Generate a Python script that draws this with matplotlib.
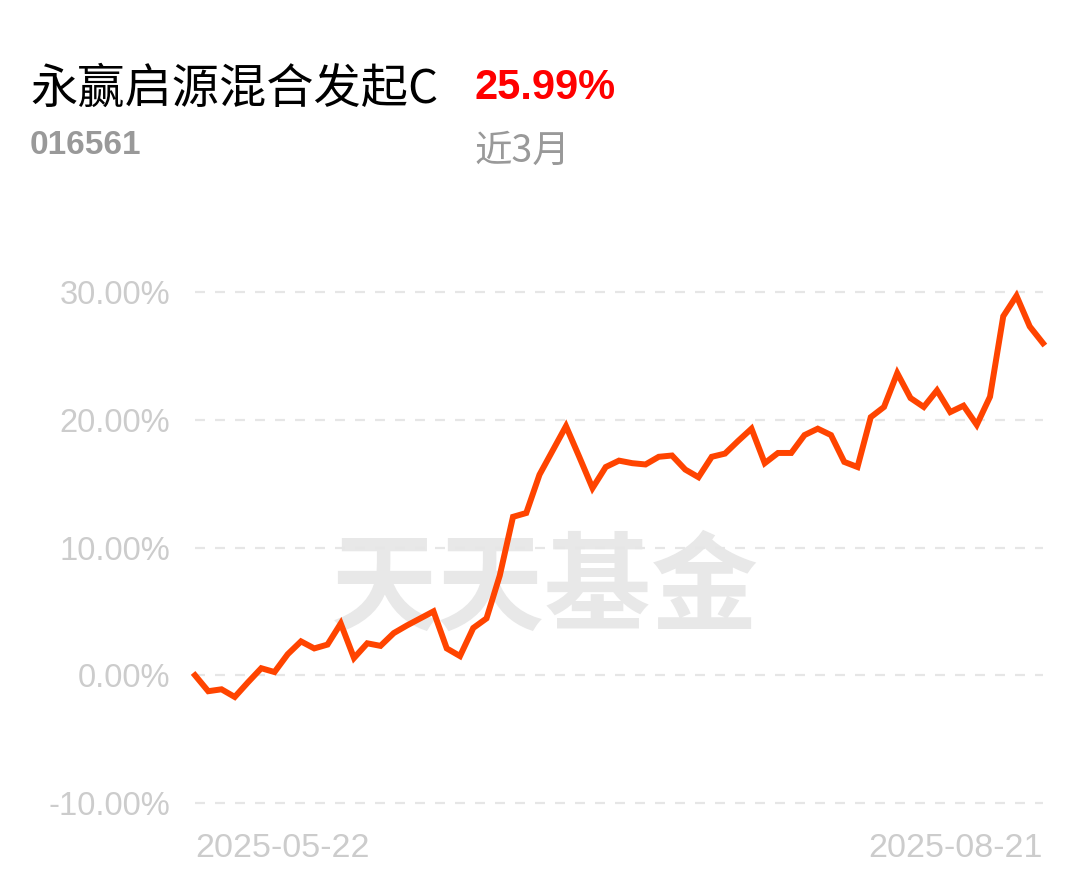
import matplotlib
matplotlib.use('Agg')
import matplotlib.pyplot as plt

# fund info
fund_name = '永赢启源混合发起C'
fund_code = '016561'
period_return = '25.99%'
period_label = '近3月'
start_date = '2025-05-22'
end_date = '2025-08-21'

# cumulative return (%) per trading day
returns = [0.00, -1.25, -1.1, -1.7, -0.55, 0.55, 0.25, 1.65, 2.65, 2.1,
           2.4, 4.05, 1.35, 2.5, 2.3, 3.3, 3.9, 4.45, 5.0, 2.1,
           1.5, 3.7, 4.45, 7.8, 12.4, 12.7, 15.7, 17.6, 19.5, 17.1,
           14.65, 16.3, 16.8, 16.6, 16.5, 17.1, 17.2, 16.1, 15.5, 17.1,
           17.35, 18.35, 19.3, 16.6, 17.4, 17.4, 18.8, 19.3, 18.8, 16.7,
           16.3, 20.2, 21.0, 23.65, 21.7, 21.0, 22.3, 20.6, 21.1, 19.6,
           21.8, 28.1, 29.7, 27.3, 25.99]
yticks = [-10, 0, 10, 20, 30]

W, H = 1089, 881
fig = plt.figure(figsize=(W / 100, H / 100), dpi=100)
fig.patch.set_facecolor('white')

# axes placed to match pixel layout
left, right, top, bottom = 195, 1043, 292, 803
ax = fig.add_axes([left / W, 1 - bottom / H, (right - left) / W, (bottom - top) / H])
ax.set_xlim(0, len(returns) - 1)
ax.set_ylim(-10, 30)
for s in ax.spines.values():
    s.set_visible(False)

# dashed grid
for t in yticks:
    ax.axhline(t, color='#e6e6e6', lw=1.6, dashes=(4.5, 4.5), zorder=1, clip_on=False)

ax.set_yticks(yticks)
ax.set_yticklabels(['%.2f%%' % t for t in yticks], family='Liberation Sans',
                   fontsize=23.5, color='#cccccc')
ax.tick_params(axis='y', length=0, pad=18)
ax.set_xticks([])

# x labels at both ends
ax.text(0, -0.09, start_date, transform=ax.transAxes, ha='left', va='center',
        family='Liberation Sans', fontsize=24.5, color='#cccccc')
ax.text(1, -0.09, end_date, transform=ax.transAxes, ha='right', va='center',
        family='Liberation Sans', fontsize=24.5, color='#cccccc')

# watermark
fig.text(545 / W, 1 - 590 / H, '天天基金', ha='center', va='center',
         family=['Noto Sans CJK SC'], fontweight='bold', fontsize=77,
         color='#e8e8e8', zorder=0)

ax.plot(range(len(returns)), returns, color='#ff4400', lw=4.3,
        solid_joinstyle='miter', zorder=3, clip_on=False)
ax.set_zorder(2)
ax.patch.set_alpha(0)

# header texts
fig.text(30 / W, 1 - 90 / H, fund_name, ha='left', va='center',
         family=['Noto Sans CJK SC', 'DejaVu Sans'], fontsize=34, color='black')
fig.text(30 / W, 1 - 145 / H, fund_code, ha='left', va='center',
         family=['Liberation Sans'], fontweight='bold',
         fontsize=24, color='#999999')
fig.text(475 / W, 1 - 88 / H, period_return, ha='left', va='center',
         family=['Liberation Sans'], fontweight='bold',
         fontsize=30, color='#ff0000')
fig.text(475 / W, 1 - 151 / H, period_label, ha='left', va='center',
         family=['Noto Sans CJK SC', 'DejaVu Sans'], fontsize=27, color='#999999')

fig.savefig('out.png', dpi=100)
